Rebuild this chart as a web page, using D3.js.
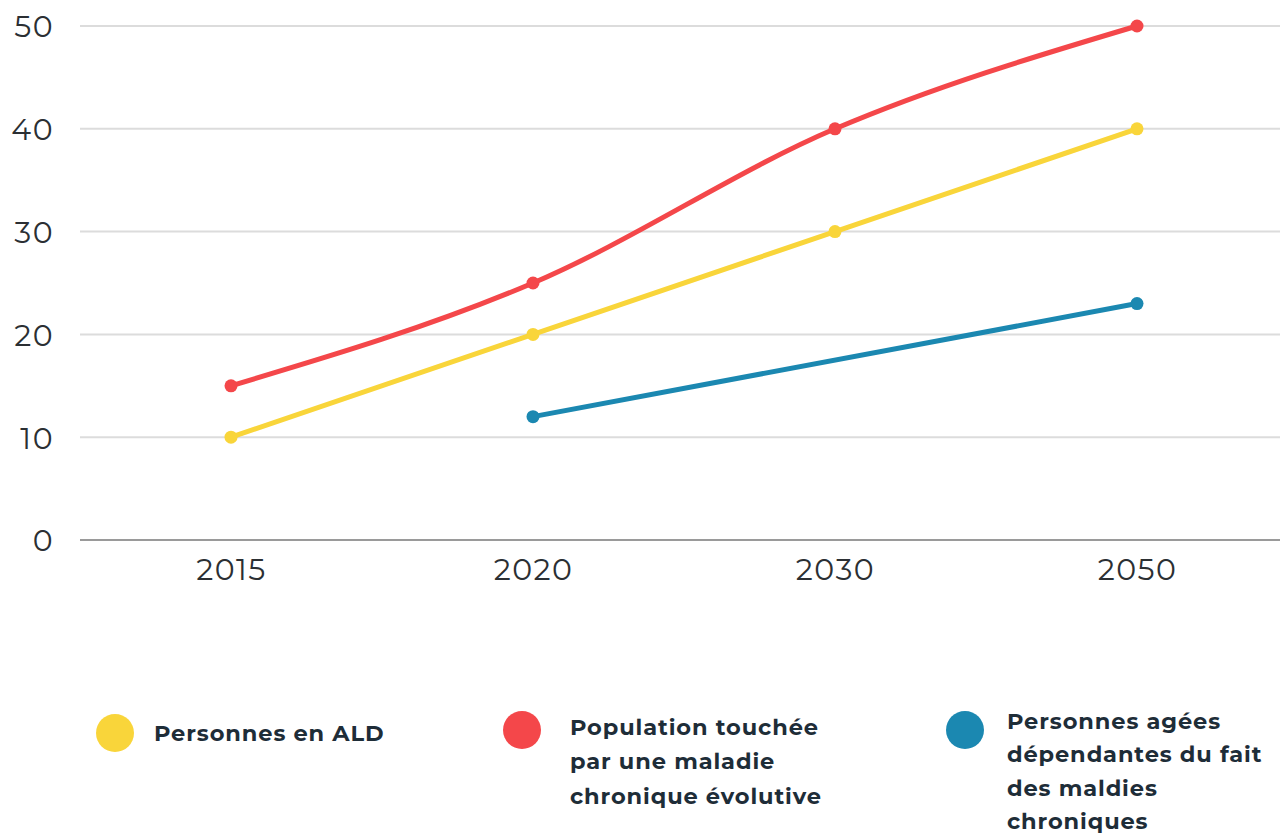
<!DOCTYPE html>
<html>
<head>
<meta charset="utf-8">
<script src="https://cdn.jsdelivr.net/npm/d3@7"></script>
<style>
  html, body { margin: 0; padding: 0; background: #fff; }
  svg { display: block; }
</style>
</head>
<body>
<svg id="chart" width="1280" height="837"></svg>
<script>
// Years on the horizontal axis
const years = ["2015", "2020", "2030", "2050"];
// Values (millions) per series; null where no figure exists
const aldValues = [10, 20, 30, 40];
const chronicValues = [15, 25, 40, 50];
const dependentValues = [null, 12, null, 23];
const yTicks = [0, 10, 20, 30, 40, 50];

const seriesNames = [
  ["Personnes en ALD"],
  ["Population touchée", "par une maladie", "chronique évolutive"],
  ["Personnes agées", "dépendantes du fait", "des maldies", "chroniques"]
];
const seriesColors = ["#f9d53a", "#f4474a", "#1b88b1"];

const series = [
  { values: aldValues, color: seriesColors[0], curve: d3.curveLinear },
  { values: chronicValues, color: seriesColors[1], curve: d3.curveMonotoneX },
  { values: dependentValues, color: seriesColors[2], curve: d3.curveLinear }
];

const svg = d3.select("#chart");
const font = "Montserrat, 'Open Sans', sans-serif";

const x = d3.scalePoint().domain(years).range([80, 1288]).padding(0.5);
const y = d3.scaleLinear().domain([0, 50]).range([540, 26]);

// Grid lines
svg.append("g")
  .selectAll("line")
  .data(yTicks)
  .join("line")
  .attr("x1", 80).attr("x2", 1280)
  .attr("y1", d => y(d)).attr("y2", d => y(d))
  .attr("stroke", d => d === 0 ? "#9a9a9a" : "#dcdcdc")
  .attr("stroke-width", 2);

// Y axis labels
const yAxis = svg.append("g")
  .attr("transform", "translate(54,0)")
  .call(d3.axisLeft(y).tickValues(yTicks).tickSize(0).tickPadding(0));
yAxis.select(".domain").remove();
yAxis.selectAll("text")
  .attr("font-family", font)
  .attr("font-size", 30)
  .attr("letter-spacing", 1.5)
  .attr("fill", "#2b2f33")
  .attr("dy", "0.36em");

// X axis labels
const xAxis = svg.append("g")
  .attr("transform", "translate(0,553)")
  .call(d3.axisBottom(x).tickSize(0).tickPadding(0));
xAxis.select(".domain").remove();
xAxis.selectAll("text")
  .attr("font-family", font)
  .attr("font-size", 30)
  .attr("letter-spacing", 1.5)
  .attr("fill", "#2b2f33")
  .attr("dy", "0.9em");

// Lines and markers
series.forEach(s => {
  const pts = years.map((yr, i) => ({ yr, v: s.values[i] })).filter(p => p.v !== null);
  const line = d3.line().x(p => x(p.yr)).y(p => y(p.v)).curve(s.curve);
  svg.append("path")
    .datum(pts)
    .attr("d", line)
    .attr("fill", "none")
    .attr("stroke", s.color)
    .attr("stroke-width", 5)
    .attr("stroke-linejoin", "round")
    .attr("stroke-linecap", "round");
  svg.append("g")
    .selectAll("circle")
    .data(pts)
    .join("circle")
    .attr("cx", p => x(p.yr))
    .attr("cy", p => y(p.v))
    .attr("r", 6.5)
    .attr("fill", s.color);
});

// Legend
const legendItems = [
  { cx: 115, cy: 733, tx: 154, ty: 741, gap: 34.3 },
  { cx: 522, cy: 730, tx: 570, ty: 735, gap: 34.3 },
  { cx: 965, cy: 730, tx: 1007, ty: 729, gap: 33.4 }
];
legendItems.forEach((pos, i) => {
  const g = svg.append("g");
  g.append("circle")
    .attr("cx", pos.cx).attr("cy", pos.cy).attr("r", 19)
    .attr("fill", seriesColors[i]);
  g.append("text")
    .attr("x", pos.tx).attr("y", pos.ty)
    .attr("font-family", font)
    .attr("font-size", 22.5)
    .attr("font-weight", 700)
    .attr("letter-spacing", 0.9)
    .attr("fill", "#1e2d38")
    .selectAll("tspan")
    .data(seriesNames[i])
    .join("tspan")
    .attr("x", pos.tx)
    .attr("dy", (d, j) => j === 0 ? 0 : pos.gap)
    .text(d => d);
});
</script>
</body>
</html>
